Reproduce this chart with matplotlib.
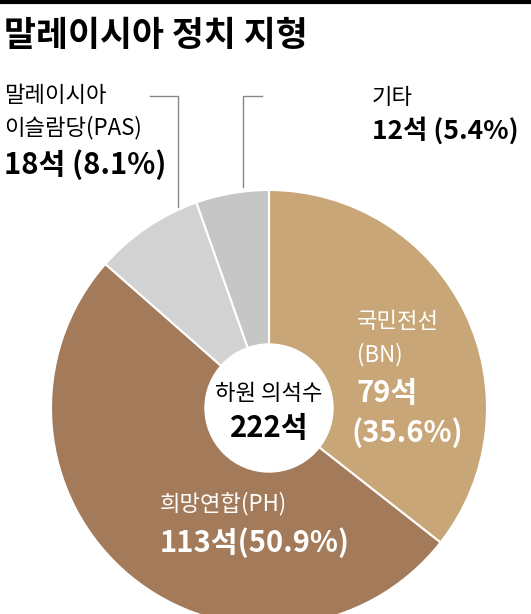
import matplotlib
matplotlib.use("Agg")
import matplotlib.pyplot as plt

plt.rcParams['font.family'] = ['Noto Sans CJK KR', 'DejaVu Sans']

parties = ["국민전선(BN)", "희망연합(PH)", "말레이시아 이슬람당(PAS)", "기타"]
seats = [79, 113, 18, 12]
shares = [35.6, 50.9, 8.1, 5.4]
colors = ["#C9A677", "#A47B5A", "#D2D2D2", "#C6C6C6"]
total = 222

W, H = 531, 614
fig = plt.figure(figsize=(W/100, H/100), dpi=100)
ax = fig.add_axes([0, 0, 1, 1])
def Y(y): return H - y

cx, cy, R = 269, Y(408), 218
ax.pie(seats, colors=colors, startangle=90, counterclock=False, center=(cx, cy),
       radius=R, wedgeprops=dict(edgecolor='white', linewidth=1.5), frame=True)
ax.set_xlim(0, W); ax.set_ylim(0, H); ax.axis('off'); ax.set_aspect('equal')
ax.add_patch(plt.Circle((cx, cy), 64, color='white', zorder=3))

ax.plot([0, W], [H-1.5, H-1.5], color='black', lw=3)
ax.text(4, Y(46), "말레이시아 정치 지형", fontsize=25, fontweight='bold', va='baseline')

ax.text(269, Y(393), "하원 의석수", fontsize=16, ha='center', va='center', zorder=4)
ax.text(269, Y(428), f"{total}석", fontsize=21, fontweight='bold', ha='center', va='center', zorder=4)

ax.text(357, Y(322), "국민전선", fontsize=16, color='white', va='center')
ax.text(357, Y(355), "(BN)", fontsize=16, color='white', va='center')
ax.text(357, Y(393), f"{seats[0]}석", fontsize=21, fontweight='bold', color='white', va='center')
ax.text(352, Y(433), f"({shares[0]}%)", fontsize=21, fontweight='bold', color='white', va='center')

ax.text(160, Y(504), "희망연합(PH)", fontsize=16, color='white', va='center')
ax.text(160, Y(543), f"{seats[1]}석({shares[1]}%)", fontsize=21, fontweight='bold', color='white', va='center')

ax.text(4, Y(95), "말레이시아", fontsize=16, va='center')
ax.text(4, Y(128), "이슬람당(PAS)", fontsize=16, va='center')
ax.text(4, Y(165), f"{seats[2]}석 ({shares[2]}%)", fontsize=21, fontweight='bold', va='center')

ax.text(372, Y(98), "기타", fontsize=16, va='center')
ax.text(372, Y(131), f"{seats[3]}석 ({shares[3]}%)", fontsize=19, fontweight='bold', va='center')

lc = '#888888'
ax.plot([150, 178, 178], [Y(96), Y(96), Y(207)], color=lc, lw=1)
ax.plot([243, 243, 262], [Y(187), Y(96), Y(96)], color=lc, lw=1)

fig.savefig("out.png", dpi=100)
